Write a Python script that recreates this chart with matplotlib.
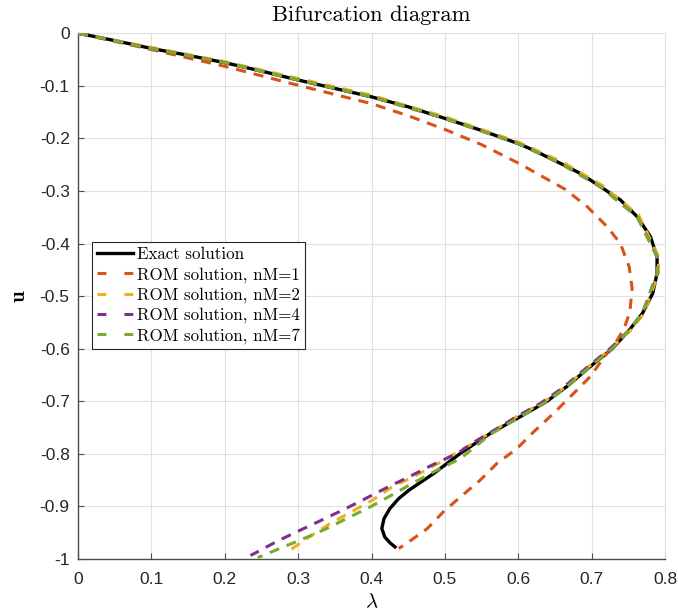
import matplotlib
matplotlib.use("Agg")
import matplotlib.pyplot as plt

plt.rcParams["axes.unicode_minus"] = False
plt.rcParams["mathtext.fontset"] = "cm"

# Exact solution branch (lambda, u)
lam_exact = [0.0, 0.05, 0.1, 0.15, 0.2, 0.25, 0.3, 0.35, 0.4, 0.45, 0.5, 0.55, 0.6, 0.62,
             0.658, 0.685, 0.712, 0.739, 0.762, 0.780, 0.789, 0.789, 0.783, 0.769, 0.751,
             0.728, 0.698, 0.666, 0.638, 0.603, 0.563, 0.535, 0.521, 0.503, 0.485, 0.468,
             0.451, 0.437, 0.425, 0.417, 0.414, 0.418, 0.425, 0.432]
u_exact = [0.0, -0.014, -0.029, -0.042, -0.056, -0.072, -0.089, -0.105, -0.121, -0.140,
           -0.162, -0.185, -0.210, -0.222, -0.248, -0.267, -0.292, -0.317, -0.349, -0.387,
           -0.425, -0.457, -0.495, -0.533, -0.565, -0.600, -0.634, -0.672, -0.701, -0.729,
           -0.760, -0.786, -0.799, -0.818, -0.837, -0.853, -0.869, -0.885, -0.904, -0.923,
           -0.942, -0.958, -0.969, -0.977]

# ROM, nM = 1
lam_rom1 = [0.0, 0.1, 0.2, 0.3, 0.4, 0.45, 0.5, 0.55, 0.6, 0.664, 0.694, 0.721, 0.739, 0.751,
            0.755, 0.752, 0.744, 0.732, 0.718, 0.698, 0.671, 0.648, 0.621, 0.598, 0.571,
            0.548, 0.521, 0.498, 0.476, 0.451, 0.437]
u_rom1 = [0.0, -0.031, -0.063, -0.099, -0.134, -0.157, -0.183, -0.212, -0.247, -0.297,
          -0.330, -0.368, -0.400, -0.444, -0.485, -0.530, -0.562, -0.590, -0.614, -0.653,
          -0.691, -0.723, -0.758, -0.790, -0.818, -0.850, -0.882, -0.910, -0.942, -0.967,
          -0.980]

# ROM, nM = 2
lam_rom2 = [0.0, 0.1, 0.2, 0.3, 0.4, 0.5, 0.6, 0.66, 0.714, 0.764, 0.791, 0.791, 0.771,
            0.753, 0.726, 0.696, 0.663, 0.633, 0.598, 0.545, 0.492, 0.462, 0.428, 0.401,
            0.373, 0.344, 0.314, 0.289, 0.282]
u_rom2 = [0.0, -0.027, -0.054, -0.086, -0.118, -0.159, -0.207, -0.245, -0.289, -0.346,
          -0.425, -0.457, -0.533, -0.565, -0.600, -0.634, -0.674, -0.703, -0.729, -0.774,
          -0.817, -0.840, -0.863, -0.888, -0.910, -0.932, -0.959, -0.983, -0.990]

# ROM, nM = 4
lam_rom4 = [0.0, 0.1, 0.2, 0.3, 0.4, 0.5, 0.6, 0.658, 0.712, 0.762, 0.789, 0.789, 0.769,
            0.751, 0.725, 0.695, 0.660, 0.630, 0.598, 0.571, 0.544, 0.517, 0.483, 0.452,
            0.421, 0.389, 0.362, 0.332, 0.303, 0.273, 0.241, 0.235]
u_rom4 = [0.0, -0.029, -0.056, -0.089, -0.121, -0.162, -0.210, -0.248, -0.292, -0.349,
          -0.425, -0.457, -0.533, -0.565, -0.600, -0.634, -0.675, -0.704, -0.729, -0.752,
          -0.774, -0.799, -0.821, -0.843, -0.864, -0.887, -0.906, -0.926, -0.945, -0.965,
          -0.989, -0.993]

# ROM, nM = 7
lam_rom7 = [0.0, 0.1, 0.2, 0.3, 0.4, 0.5, 0.6, 0.658, 0.712, 0.762, 0.789, 0.789, 0.769,
            0.751, 0.728, 0.698, 0.666, 0.638, 0.603, 0.563, 0.521, 0.485, 0.457, 0.428,
            0.398, 0.369, 0.339, 0.308, 0.278, 0.251, 0.245]
u_rom7 = [0.0, -0.029, -0.056, -0.089, -0.121, -0.162, -0.210, -0.248, -0.292, -0.349,
          -0.425, -0.457, -0.533, -0.565, -0.600, -0.634, -0.672, -0.701, -0.729, -0.762,
          -0.809, -0.834, -0.855, -0.878, -0.901, -0.921, -0.942, -0.961, -0.978, -0.994,
          -0.997]

x_ticks = [0, 0.1, 0.2, 0.3, 0.4, 0.5, 0.6, 0.7, 0.8]
x_ticklabels = ["0", "0.1", "0.2", "0.3", "0.4", "0.5", "0.6", "0.7", "0.8"]
y_ticks = [0, -0.1, -0.2, -0.3, -0.4, -0.5, -0.6, -0.7, -0.8, -0.9, -1]
y_ticklabels = ["0", "-0.1", "-0.2", "-0.3", "-0.4", "-0.5", "-0.6", "-0.7", "-0.8", "-0.9", "-1"]

fig = plt.figure(figsize=(6.78, 6.15), dpi=100)
ax = fig.add_axes([0.115, 0.091, 0.866, 0.855])

dash = (3.3, 2.6)
lw = 2.2
ax.plot(lam_exact, u_exact, color="black", lw=2.4, label="Exact solution", zorder=3,
        solid_joinstyle="round")
ax.plot(lam_rom1, u_rom1, color="#D95319", lw=lw, dashes=dash, label="ROM solution, nM=1", zorder=4)
ax.plot(lam_rom2, u_rom2, color="#EDB120", lw=lw, dashes=dash, label="ROM solution, nM=2", zorder=4)
ax.plot(lam_rom4, u_rom4, color="#7E2F8E", lw=lw, dashes=dash, label="ROM solution, nM=4", zorder=4)
ax.plot(lam_rom7, u_rom7, color="#77AC30", lw=lw, dashes=dash, label="ROM solution, nM=7", zorder=4)

ax.set_xlim(0, 0.8)
ax.set_ylim(-1, 0)
ax.set_xticks(x_ticks)
ax.set_xticklabels(x_ticklabels)
ax.set_yticks(y_ticks)
ax.set_yticklabels(y_ticklabels)

for lbl in ax.get_xticklabels() + ax.get_yticklabels():
    lbl.set_fontfamily("Liberation Sans")
    lbl.set_fontsize(12.5)
    lbl.set_color("#262626")

ax.tick_params(direction="in", length=4, width=0.8, color="#4d4d4d")
ax.tick_params(axis="x", pad=9.5)
ax.tick_params(axis="y", pad=6)
ax.grid(True, color="#e0e0e0", lw=0.8)
ax.set_axisbelow(True)
for side in ("left", "bottom"):
    ax.spines[side].set_color("#4d4d4d")
    ax.spines[side].set_linewidth(1.0)
for side in ("top", "right"):
    ax.spines[side].set_color("#e0e0e0")
    ax.spines[side].set_linewidth(0.8)

ax.set_title("Bifurcation diagram", fontfamily="cmr10", fontsize=16.3, pad=9)
ax.set_xlabel(r"$\lambda$", fontsize=15, labelpad=3)
ax.set_ylabel("u", fontfamily="cmb10", fontsize=15, labelpad=8)

leg = ax.legend(loc="upper left", bbox_to_anchor=(0.024, 0.603), borderaxespad=0,
                prop=dict(family="cmr10", size=12.2), handlelength=2.1,
                handletextpad=0.26, labelspacing=0.27, borderpad=0.3,
                fancybox=False, framealpha=1, edgecolor="#262626")
leg.get_frame().set_linewidth(0.8)
for handle in leg.get_lines()[1:]:
    handle.set_dashes((2.9, 5.9))

fig.savefig("out.png", dpi=100)
